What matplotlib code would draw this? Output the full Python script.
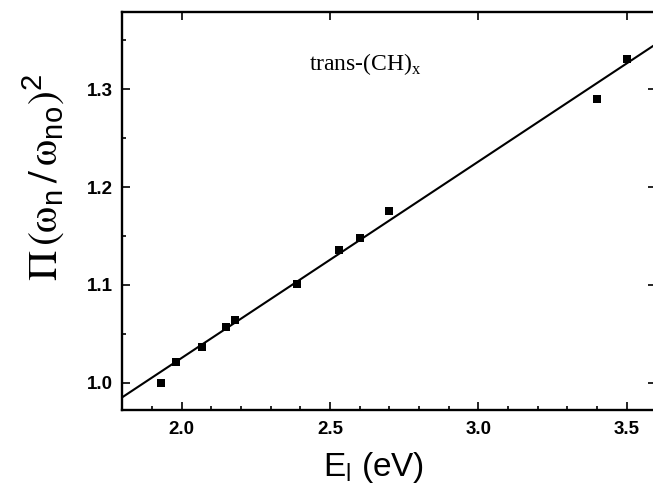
import numpy as np
import matplotlib
matplotlib.use("Agg")
import matplotlib.pyplot as plt
from matplotlib.ticker import MultipleLocator

# ---- data ----
energy = [1.93, 1.98, 2.07, 2.15, 2.18, 2.39, 2.53, 2.60, 2.70, 3.40, 3.50]
ratio = [1.000, 1.021, 1.036, 1.057, 1.064, 1.101, 1.136, 1.148, 1.176, 1.290, 1.331]
fit_slope = 0.2008
fit_intercept = 0.6236
x_ticks = [2.0, 2.5, 3.0, 3.5]
x_ticklabels = ["2.0", "2.5", "3.0", "3.5"]
y_ticks = [1.0, 1.1, 1.2, 1.3]
y_ticklabels = ["1.0", "1.1", "1.2", "1.3"]

fig = plt.figure(figsize=(6.53, 4.86), dpi=100)
ax = fig.add_axes([0.1873, 0.1564, 0.8178, 0.8189])

ax.plot(energy, ratio, linestyle="none", marker="s", markersize=6.4,
        color="black", markeredgewidth=0)
fit_x = np.array([1.8, 3.6])
ax.plot(fit_x, fit_intercept + fit_slope * fit_x, color="black", linewidth=1.5)

ax.set_xlim(1.8, 3.6)
ax.set_ylim(0.972, 1.379)

ax.set_xticks(x_ticks)
ax.set_xticklabels(x_ticklabels)
ax.set_yticks(y_ticks)
ax.set_yticklabels(y_ticklabels)
ax.xaxis.set_minor_locator(MultipleLocator(0.1))
ax.yaxis.set_minor_locator(MultipleLocator(0.05))

for lab in ax.get_xticklabels() + ax.get_yticklabels():
    lab.set_fontfamily("Liberation Sans")
    lab.set_fontsize(13.5)
    lab.set_fontweight("bold")

ax.tick_params(which="both", direction="in", top=True, right=True, width=1.2)
ax.tick_params(which="major", length=6)
ax.tick_params(which="minor", length=3, top=False, right=False)
ax.tick_params(axis="x", which="major", pad=8)
ax.tick_params(axis="y", which="major", pad=7)
for sp in ax.spines.values():
    sp.set_linewidth(1.7)

ax.text(2.43, 1.320, r"trans-(CH)$_\mathregular{x}$", family="Liberation Serif",
        fontsize=17, ha="left", va="baseline")

fig.text(374 / 653, 10 / 486, r"E$_\mathregular{l}$ (eV)", family="Liberation Sans",
         fontsize=24, ha="center", va="baseline")
fig.text(44 / 653, 1 - 177 / 486,
         r"$\mathrm{\Pi}\,(\mathrm{\omega}_\mathregular{n}\,/\,\mathrm{\omega}_\mathregular{no})^\mathregular{2}$",
         family="Liberation Sans", math_fontfamily="stix", fontsize=30,
         rotation=90, ha="center", va="center")

fig.savefig("out.png", dpi=100)
